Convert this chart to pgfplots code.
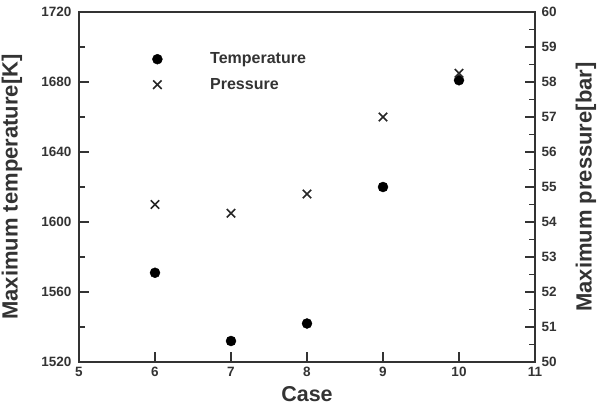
\documentclass[border=0pt]{standalone}
\usepackage{pgfplots}
\pgfplotsset{compat=1.18}
\usepackage{fontspec}
\setmainfont{Liberation Sans}
\definecolor{axgray}{HTML}{333333}
\begin{document}
\begin{tikzpicture}
\useasboundingbox (-79pt,-46pt) rectangle (520pt,362pt);
\pgfplotsset{
  common/.style={
    scale only axis, width=456pt, height=350pt,
    xmin=5, xmax=11,
    tick align=inside,
    major tick length=10pt, minor tick length=6pt,
    axis line style={axgray, line width=1.3pt},
    every tick/.style={axgray, line width=1.3pt},
    tick label style={font=\fontsize{13.5}{16}\selectfont\bfseries, text=axgray},
    /pgf/number format/assume math mode=true,
    /pgf/number format/1000 sep={},
  },
}
\begin{axis}[common,
  ymin=1520, ymax=1720, ytick={1520,1560,...,1720}, minor y tick num=1,
  xtick={5,6,...,11}, xtick pos=bottom, ytick pos=left,
  xticklabel style={yshift=-2pt},
  yticklabel style={xshift=-4pt},
  xlabel={Case}, ylabel={Maximum temperature[K]},
  every axis x label/.style={at={(axis description cs:0.5,0)}, yshift=-32.5pt, anchor=center,
    font=\fontsize{21.5}{26}\selectfont\bfseries, text=axgray},
  every axis y label/.style={at={(axis description cs:0,0.5)}, xshift=-67pt, anchor=center, rotate=90,
    font=\fontsize{22}{26}\selectfont\bfseries, text=axgray},
  legend style={draw=none, fill=none, at={(axis description cs:0.15,0.895)}, anchor=north west,
    font=\fontsize{16}{18}\selectfont\bfseries, text=axgray, row sep=9pt},
  legend cell align=left,
  legend image code/.code={\path (-6pt,0pt) (50pt,0pt); \draw plot coordinates {(0pt,0pt)};},
]
\addplot[only marks, mark=*, mark size=5pt, black] coordinates {
  (6,1571) (7,1532) (8,1542) (9,1620) (10,1681)
};
\addlegendentry{Temperature}
\addlegendimage{only marks, mark=x, mark size=6pt, line width=1.6pt, black!85}
\addlegendentry{Pressure}
\end{axis}
\begin{axis}[common,
  axis x line=none, axis y line*=right,
  ymin=50, ymax=60, ytick={50,51,...,60}, minor y tick num=1,
  yticklabel style={xshift=3pt},
  ylabel={Maximum pressure[bar]},
  every axis y label/.style={at={(axis description cs:1,0.5)}, xshift=51pt, anchor=center, rotate=90,
    font=\fontsize{22}{26}\selectfont\bfseries, text=axgray},
]
\addplot[only marks, mark=x, mark size=6pt, line width=1.6pt, black!85] coordinates {
  (6,54.5) (7,54.25) (8,54.8) (9,57.0) (10,58.25)
};
\end{axis}
\end{tikzpicture}
\end{document}
